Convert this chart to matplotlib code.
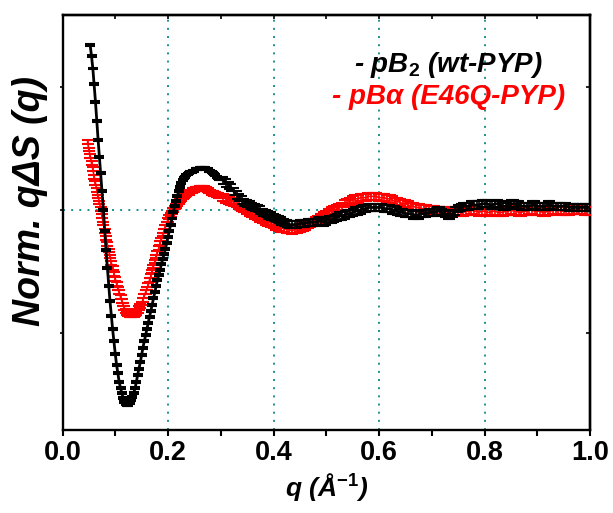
import numpy as np
import matplotlib
matplotlib.use("Agg")
import matplotlib.pyplot as plt

plt.rcParams['font.family'] = ['Liberation Sans', 'DejaVu Sans']
plt.rcParams['mathtext.fontset'] = 'custom'
plt.rcParams['mathtext.rm'] = 'Liberation Sans:bold'
plt.rcParams['mathtext.bf'] = 'Liberation Sans:bold'
plt.rcParams['mathtext.it'] = 'Liberation Sans:italic:bold'

# ---------------- data ----------------
q_black = np.round(np.concatenate([np.arange(0.0525, 0.30001, 0.0025),
                                   np.arange(0.305, 1.00001, 0.005)]), 4)
q_red = np.round(np.concatenate([np.arange(0.0475, 0.30001, 0.0025),
                                 np.arange(0.305, 1.00001, 0.005)]), 4)

black_low = [1.34, 1.25, 1.15, 1.02, 0.88, 0.72, 0.57, 0.43, 0.30, 0.15,
             0.00, -0.17, -0.33, -0.47, -0.62, -0.74, -0.86, -0.97, -1.07, -1.17,
             -1.26, -1.33, -1.40, -1.45, -1.49, -1.53, -1.56, -1.58, -1.59, -1.59,
             -1.57, -1.55, -1.52, -1.49, -1.45, -1.40, -1.34, -1.29, -1.24, -1.18,
             -1.12, -1.07, -1.02, -0.97, -0.92, -0.87, -0.82, -0.77, -0.72, -0.67,
             -0.62, -0.57, -0.53, -0.49, -0.44, -0.40, -0.36, -0.32, -0.27, -0.22,
             -0.17, -0.12, -0.07, -0.02, 0.03, 0.07, 0.11, 0.15, 0.19, 0.22,
             0.24, 0.26, 0.27, 0.28, 0.29, 0.30, 0.31, 0.31, 0.32, 0.32,
             0.33, 0.33, 0.33, 0.34, 0.34, 0.34, 0.34, 0.34, 0.33, 0.33,
             0.32, 0.32, 0.31, 0.30, 0.29, 0.28, 0.27, 0.26, 0.25, 0.25]
black_high = [0.24, 0.22, 0.20, 0.18, 0.15, 0.12, 0.10, 0.08, 0.06, 0.05,
              0.04, 0.03, 0.02, 0.01, 0.00, -0.02, -0.03, -0.04, -0.05, -0.06,
              -0.07, -0.08, -0.09, -0.10, -0.11, -0.12, -0.12, -0.12, -0.12, -0.11,
              -0.11, -0.11, -0.10, -0.10, -0.10, -0.10, -0.09, -0.09, -0.10, -0.09,
              -0.08, -0.08, -0.07, -0.06, -0.05, -0.05, -0.04, -0.03, -0.03, -0.02,
              -0.01, -0.01, 0.00, 0.01, 0.01, 0.02, 0.02, 0.02, 0.02, 0.02,
              0.02, 0.01, 0.01, 0.01, 0.00, 0.00, -0.01, -0.02, -0.02, -0.03,
              -0.03, -0.03, -0.04, -0.04, -0.04, -0.03, -0.03, -0.03, -0.02, -0.02,
              -0.02, -0.01, -0.01, -0.02, -0.03, -0.04, -0.04, -0.03, -0.01, 0.01,
              0.02, 0.03, 0.03, 0.03, 0.04, 0.04, 0.04, 0.04, 0.05, 0.05,
              0.05, 0.04, 0.04, 0.05, 0.05, 0.04, 0.03, 0.03, 0.04, 0.05,
              0.05, 0.04, 0.04, 0.03, 0.03, 0.03, 0.03, 0.04, 0.04, 0.03,
              0.03, 0.03, 0.03, 0.04, 0.04, 0.03, 0.03, 0.03, 0.03, 0.03,
              0.03, 0.02, 0.02, 0.02, 0.02, 0.02, 0.02, 0.02, 0.02, 0.02]

red_low = [0.55, 0.49, 0.44, 0.38, 0.33, 0.27, 0.22, 0.16, 0.11, 0.06,
           0.01, -0.05, -0.11, -0.17, -0.23, -0.28, -0.33, -0.38, -0.43, -0.47,
           -0.52, -0.56, -0.60, -0.64, -0.67, -0.71, -0.74, -0.77, -0.80, -0.82,
           -0.84, -0.85, -0.86, -0.86, -0.86, -0.86, -0.85, -0.84, -0.82, -0.80,
           -0.78, -0.76, -0.73, -0.70, -0.67, -0.64, -0.61, -0.57, -0.54, -0.50,
           -0.46, -0.42, -0.38, -0.35, -0.31, -0.27, -0.24, -0.20, -0.17, -0.14,
           -0.11, -0.08, -0.06, -0.04, -0.02, 0.00, 0.02, 0.03, 0.05, 0.06,
           0.08, 0.09, 0.10, 0.11, 0.12, 0.13, 0.14, 0.14, 0.15, 0.15,
           0.16, 0.16, 0.17, 0.17, 0.17, 0.18, 0.18, 0.18, 0.18, 0.17,
           0.17, 0.16, 0.15, 0.15, 0.14, 0.14, 0.13, 0.13, 0.12, 0.12,
           0.11, 0.11]
red_high = [0.10, 0.09, 0.08, 0.07, 0.06, 0.05, 0.04, 0.02, 0.01, 0.00,
            -0.02, -0.03, -0.04, -0.05, -0.07, -0.08, -0.09, -0.10, -0.11, -0.12,
            -0.13, -0.14, -0.15, -0.15, -0.16, -0.16, -0.17, -0.16, -0.16, -0.15,
            -0.14, -0.13, -0.12, -0.11, -0.10, -0.09, -0.08, -0.06, -0.05, -0.04,
            -0.02, -0.01, 0.00, 0.01, 0.02, 0.03, 0.05, 0.06, 0.07, 0.08,
            0.09, 0.09, 0.10, 0.10, 0.10, 0.11, 0.11, 0.11, 0.11, 0.10,
            0.10, 0.10, 0.09, 0.09, 0.08, 0.07, 0.07, 0.06, 0.05, 0.05,
            0.04, 0.03, 0.03, 0.02, 0.02, 0.01, 0.01, 0.01, 0.00, 0.00,
            0.00, -0.01, -0.01, -0.01, -0.01, -0.02, -0.02, -0.01, -0.01, -0.01,
            -0.02, -0.02, -0.01, -0.01, 0.00, -0.01, -0.01, -0.02, -0.01, -0.01,
            -0.02, -0.02, -0.01, -0.01, -0.02, -0.02, -0.02, -0.01, -0.01, 0.00,
            -0.01, -0.01, -0.02, -0.02, -0.01, -0.01, 0.00, 0.00, -0.01, -0.01,
            -0.01, -0.02, -0.02, -0.01, -0.01, 0.00, 0.00, 0.00, -0.01, -0.01,
            -0.01, -0.01, 0.00, 0.00, 0.00, 0.00, 0.00, -0.01, -0.01, -0.01]

black_y = np.array(black_low + black_high)
red_y = np.array(red_low + red_high)
black_err = np.array([0.008] * len(black_low) + [0.03] * len(black_high))
red_err = np.array([0.015] * len(red_low) + [0.03] * len(red_high))

label_black = "- pB$_\\mathbf{2}$ (wt-PYP)"
label_red = "- pBα (E46Q-PYP)"
xticks = [0.0, 0.2, 0.4, 0.6, 0.8, 1.0]
xticklabels = ["0.0", "0.2", "0.4", "0.6", "0.8", "1.0"]

# ---------------- figure ----------------
fig = plt.figure(figsize=(6.13, 5.13), dpi=100)
ax = fig.add_axes([62.5 / 613, 1 - 430 / 513, 527.5 / 613, 415 / 513])

grid_color = '#1a9090'
for gx in [0.2, 0.4, 0.6, 0.8]:
    ax.axvline(gx, color=grid_color, lw=1.4, ls=(0, (1, 3.2)), zorder=1)
ax.axhline(0, color=grid_color, lw=1.4, ls=(0, (1, 3.2)), zorder=1)

ax.errorbar(q_red, red_y, yerr=red_err, fmt='-', color='#ff0000', lw=1.2,
            elinewidth=1.2, capsize=4.2, capthick=1.5, zorder=3)
ax.errorbar(q_black, black_y, yerr=black_err, fmt='-', color='black', lw=2.0,
            elinewidth=1.2, capsize=3.4, capthick=1.5, zorder=4)

ax.set_xlim(0, 1.0)
ax.set_ylim(-1.79, 1.585)

for s in ax.spines.values():
    s.set_linewidth(1.7)

ax.set_xticks(xticks)
ax.set_xticklabels(xticklabels, fontsize=19.5, fontweight='bold')
ax.set_xticks(np.arange(0.1, 1.0, 0.2), minor=True)
ax.tick_params(axis='x', which='both', direction='out', length=4, width=1.5, pad=3)
ax.set_yticks([-1, 0, 1])
ax.set_yticklabels([])
ax.tick_params(axis='y', which='both', direction='out', length=2.5, width=1.2)

top = ax.secondary_xaxis('top')
top.set_xticks(np.round(np.arange(0, 1.01, 0.1), 1))
top.tick_params(direction='in', length=3, width=1.2, labeltop=False)
right = ax.secondary_yaxis('right')
right.set_yticks([-1, 0, 1])
right.tick_params(direction='in', length=3, width=1.2, labelright=False)
for sec in (top, right):
    for s in sec.spines.values():
        s.set_linewidth(1.7)

fig.text(327 / 613, 1 - 487 / 513, "q (Å$^{\\mathit{-1}}$)", fontsize=19,
         fontweight='bold', style='italic', ha='center', va='center')
fig.text(30 / 613, 1 - 201 / 513, "Norm. qΔS (q)", fontsize=27,
         fontweight='bold', style='italic', rotation=90, ha='center', va='center')

ax.text(0.731, 0.88, label_black, transform=ax.transAxes, fontsize=20,
        fontweight='bold', style='italic', color='black', ha='center', va='center')
ax.text(0.731, 0.802, label_red, transform=ax.transAxes, fontsize=20,
        fontweight='bold', style='italic', color='#ff0000', ha='center', va='center')

fig.savefig("out.png", dpi=100)
